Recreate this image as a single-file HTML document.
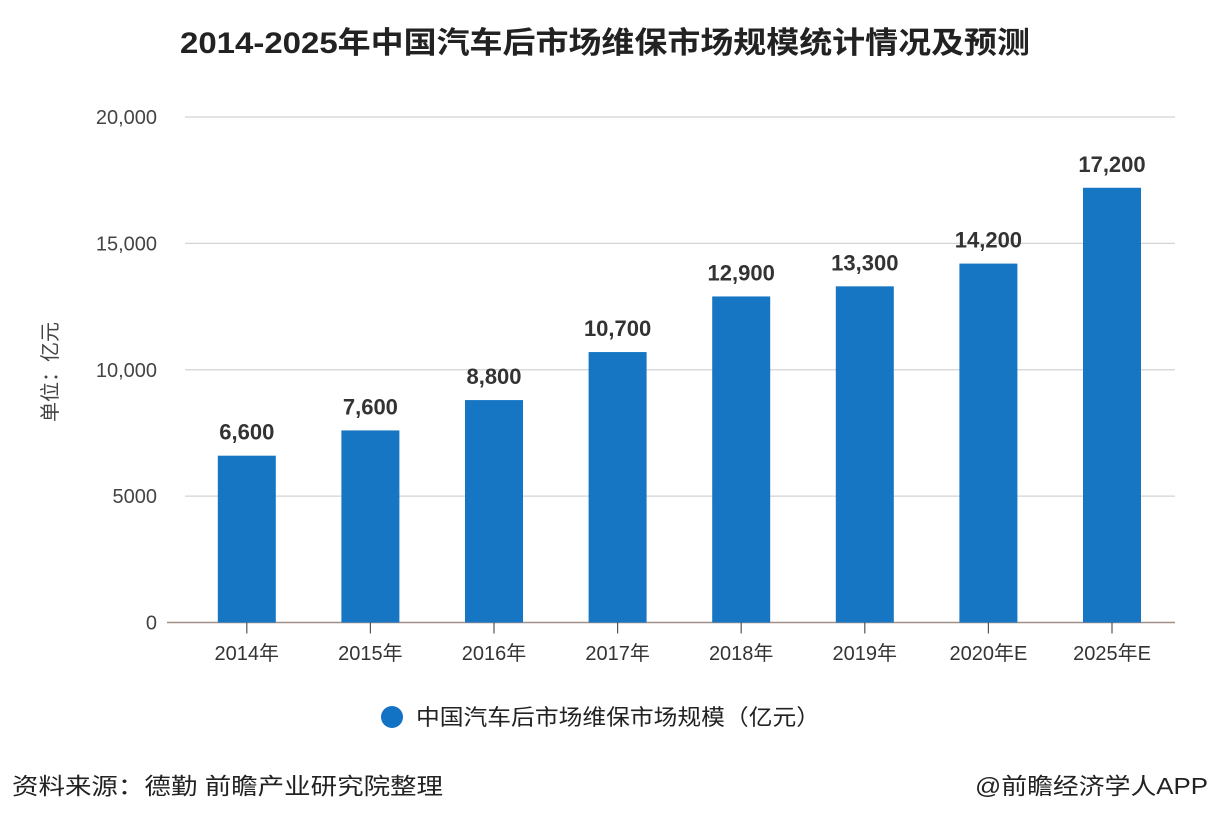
<!DOCTYPE html>
<html><head><meta charset="utf-8">
<style>
body{margin:0;width:1208px;height:826px;background:#fff;overflow:hidden;font-family:"Liberation Sans","Noto Sans CJK SC",sans-serif;}
svg{display:block}
</style></head>
<body>
<svg id="chart" width="1208" height="826">
  <text x="180" y="53" textLength="850" lengthAdjust="spacingAndGlyphs" font-size="30" font-weight="bold" fill="#222">2014-2025年中国汽车后市场维保市场规模统计情况及预测</text>
  <text transform="translate(57,372) rotate(-90)" text-anchor="middle" font-size="20" fill="#444">单位：亿元</text>
  <g id="grid"></g><g id="bars"></g><g id="labels"></g>
  <circle cx="392" cy="717" r="11" fill="#1273c4"/>
  <text x="416" y="725" textLength="404" lengthAdjust="spacingAndGlyphs" font-size="22" fill="#222">中国汽车后市场维保市场规模（亿元）</text>
  <text x="12" y="794" textLength="431" lengthAdjust="spacingAndGlyphs" font-size="23" fill="#222">资料来源：德勤 前瞻产业研究院整理</text>
  <text x="975" y="794" textLength="233" lengthAdjust="spacingAndGlyphs" font-size="23" fill="#222">@前瞻经济学人APP</text>
</svg>
<script>
const categories=["2014年","2015年","2016年","2017年","2018年","2019年","2020年E","2025年E"];
const values=[6600,7600,8800,10700,12900,13300,14200,17200];
const valueLabels=["6,600","7,600","8,800","10,700","12,900","13,300","14,200","17,200"];
const yTicks=[0,5000,10000,15000,20000];
const yTickLabels=["0","5000","10,000","15,000","20,000"];
const NS="http://www.w3.org/2000/svg";
const x0=185,band=123.6,y0=622.5,yTop=117;
function y(v){return y0-(v/20000)*(y0-yTop);}
function xc(i){return x0+band*(i+0.5);}
function mk(tag,attrs,parent){const e=document.createElementNS(NS,tag);for(const k in attrs)e.setAttribute(k,attrs[k]);parent.appendChild(e);return e;}
const grid=document.getElementById('grid'),bars=document.getElementById('bars'),labels=document.getElementById('labels');
yTicks.forEach((t,i)=>{
  const l=mk('line',{x1:t===0?167:185,x2:1175,y1:y(t),y2:y(t),stroke:t===0?'#a08f88':'#d3d3d8','stroke-width':t===0?1.6:1.2},grid);
  
  
  const tx=mk('text',{x:157,y:y(t)+7,'text-anchor':'end','font-size':20,fill:'#444'},grid);
  tx.textContent=yTickLabels[i];
  
  
});
categories.forEach((c,i)=>{
  const b=mk('rect',{x:xc(i)-29,width:58,y:y(values[i]),height:y0-y(values[i]),fill:'#1676c3'},bars);
  
  
  const tk=mk('line',{x1:xc(i),x2:xc(i),y1:y0,y2:y0+11,stroke:'#555','stroke-width':1.2},bars);
  
  
  const xl=mk('text',{x:xc(i),y:660,'text-anchor':'middle','font-size':20,fill:'#333'},labels);
  xl.textContent=c;
  
  
  const vl=mk('text',{x:xc(i),y:y(values[i])-16,'text-anchor':'middle','font-size':22,'font-weight':'bold',fill:'#333'},labels);
  vl.textContent=valueLabels[i];
  
  
});
</script>
</body></html>
